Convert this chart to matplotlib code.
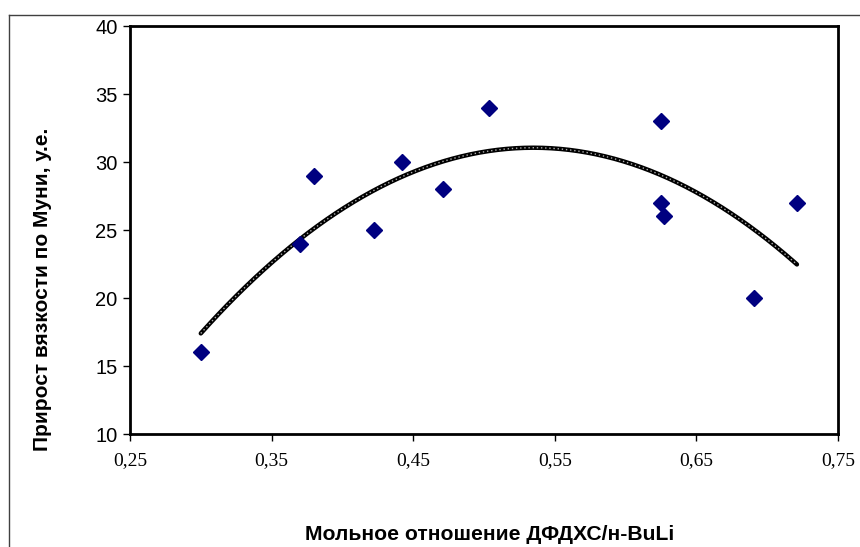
import numpy as np
import matplotlib
matplotlib.use("Agg")
import matplotlib.pyplot as plt
from matplotlib.lines import Line2D

# Data
ratio = [0.300, 0.370, 0.380, 0.422, 0.442, 0.471, 0.5035, 0.625, 0.625, 0.627, 0.691, 0.721]
mooney_gain = [16, 24, 29, 25, 30, 28, 34, 33, 27, 26, 20, 27]
xticks = [0.25, 0.35, 0.45, 0.55, 0.65, 0.75]
xtick_labels = ["0,25", "0,35", "0,45", "0,55", "0,65", "0,75"]
yticks = [10, 15, 20, 25, 30, 35, 40]

xlabel = "Мольное отношение ДФДХС/н-BuLi"
ylabel = "Прирост вязкости по Муни, у.е."

fig = plt.figure(figsize=(8.6, 5.47), dpi=100)
ax = fig.add_axes([130/860, 1-434/547, (838-130)/860, (434-26)/547])

# polynomial (2nd order) trendline from the data
coef = np.polyfit(ratio, mooney_gain, 2)
xs = np.linspace(min(ratio), max(ratio), 200)
ys = np.polyval(coef, xs)
ax.plot(xs, ys, color="black", lw=3.2, solid_capstyle="round", zorder=2)
ax.plot(xs, ys, color="#b0b0b0", lw=1.0, linestyle=(0, (1, 2)), zorder=3)

ax.plot(ratio, mooney_gain, linestyle="none", marker="D", markersize=8.5,
        color="#000080", zorder=4)

ax.set_xlim(0.25, 0.75)
ax.set_ylim(10, 40)
ax.set_xticks(xticks)
ax.set_xticklabels(xtick_labels, family="Liberation Serif", fontsize=14)
ax.set_yticks(yticks)
ax.set_yticklabels([str(v) for v in yticks], family="Liberation Sans", fontsize=14.5)
ax.tick_params(axis="both", direction="out", length=5, width=1, color="black")
ax.tick_params(axis="x", pad=8)
ax.tick_params(axis="y", pad=4)
for s in ax.spines.values():
    s.set_linewidth(2)
    s.set_color("black")

fig.text(490/860, 1-535/547, xlabel, ha="center", va="center",
         family="Liberation Sans", fontweight="bold", fontsize=15.2)
fig.text(43/860, 1-289/547, ylabel, ha="center", va="center", rotation=90,
         family="Liberation Sans", fontweight="bold", fontsize=15)

# outer chart-area frame (top and left visible)
fig.add_artist(Line2D([8.5/860, 1.0], [1-14.5/547, 1-14.5/547], transform=fig.transFigure,
                      color="#404040", lw=1))
fig.add_artist(Line2D([8.5/860, 8.5/860], [0, 1-14.5/547], transform=fig.transFigure,
                      color="#404040", lw=1))

fig.savefig("out.png", dpi=100, facecolor="white")
